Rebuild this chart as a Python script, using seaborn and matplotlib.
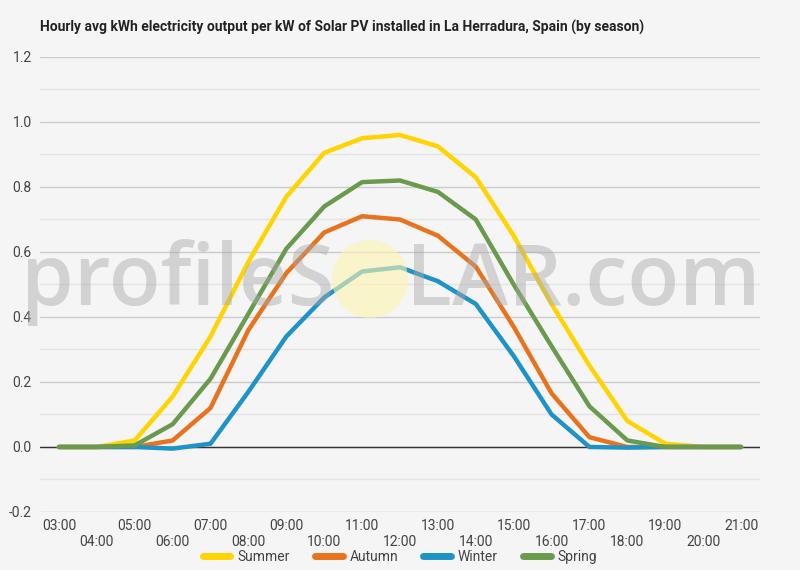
import numpy as np
import pandas as pd
import seaborn as sns
import matplotlib.pyplot as plt
from matplotlib.patches import Ellipse
from matplotlib.ticker import MultipleLocator

hours = [f"{h:02d}:00" for h in range(3, 22)]
summer = [0, 0, 0.02, 0.155, 0.34, 0.57, 0.77, 0.905, 0.95, 0.96, 0.925, 0.83, 0.65, 0.44, 0.25, 0.08, 0.01, 0, 0]
autumn = [0, 0, 0, 0.02, 0.12, 0.36, 0.535, 0.66, 0.71, 0.70, 0.65, 0.555, 0.37, 0.165, 0.03, 0, 0, 0, 0]
winter = [0, 0, 0, -0.005, 0.01, 0.17, 0.34, 0.46, 0.54, 0.553, 0.51, 0.44, 0.28, 0.10, 0.0, -0.002, 0, 0, 0]
spring = [0, 0, 0.005, 0.07, 0.21, 0.41, 0.61, 0.74, 0.815, 0.82, 0.785, 0.70, 0.50, 0.31, 0.125, 0.02, 0, 0, 0]
seasons = ["Summer", "Autumn", "Winter", "Spring"]
colors = ["#FFD400", "#E8731F", "#1F93C6", "#6A9A4E"]

df = pd.DataFrame({"hour": hours, "Summer": summer, "Autumn": autumn,
                   "Winter": winter, "Spring": spring})
long_df = df.melt(id_vars="hour", var_name="season", value_name="kwh")
long_df["x"] = long_df["hour"].map({h: i for i, h in enumerate(hours)})

sns.set_theme(style="white")
plt.rcParams["font.family"] = ["Roboto", "DejaVu Sans"]

bg = "#f5f5f5"
fig = plt.figure(figsize=(8, 5.7), dpi=100, facecolor=bg)
ax = fig.add_axes([0.05, 0.1018, 0.90, 0.7982])
ax.set_facecolor(bg)

sns.lineplot(data=long_df, x="x", y="kwh", hue="season", hue_order=seasons,
             palette=colors, linewidth=3.2, ax=ax, zorder=3)
for line in ax.get_lines():
    line.set_solid_joinstyle("round")
    line.set_solid_capstyle("round")

ax.set_xlim(-0.5, len(hours) - 0.5)
ax.set_ylim(-0.2, 1.2)
ax.yaxis.set_major_locator(MultipleLocator(0.2))
ax.yaxis.set_minor_locator(MultipleLocator(0.1))
ax.grid(which="major", axis="y", color="#cccccc", linewidth=1)
ax.grid(which="minor", axis="y", color="#e4e4e4", linewidth=1)
ax.axhline(0, color="#333333", linewidth=1, zorder=2)
ax.set_axisbelow(True)
for s in ax.spines.values():
    s.set_visible(False)

ax.set_xticks(range(len(hours)))
ax.set_xticklabels([h if i % 2 == 0 else "\n" + h for i, h in enumerate(hours)])
ax.set_yticks(np.arange(-0.2, 1.21, 0.2))
ax.set_yticklabels([f"{v:.1f}" for v in np.arange(-0.2, 1.21, 0.2)])
ax.tick_params(axis="both", which="both", length=0, labelsize=10, labelcolor="#444444")
ax.tick_params(axis="x", pad=5)
ax.tick_params(axis="y", pad=6)
ax.set_xlabel("")
ax.set_ylabel("")

fig.text(0.05, 0.952, "Hourly avg kWh electricity output per kW of Solar PV installed in La Herradura, Spain (by season)",
         fontsize=10, fontweight="bold", color="#222222", va="center")

# watermark: "profileS" + sun + "LAR.com"
sun = Ellipse((370 / 800, 1 - 279 / 570), 76 / 800, 78 / 570, transform=fig.transFigure,
              facecolor="#fff4b0", edgecolor="none", alpha=0.6, zorder=5)
fig.patches.append(sun)
wm = dict(fontsize=61, fontweight="semibold", family="Open Sans", color="#a8a8a8",
          alpha=0.45, va="center", zorder=6)
fig.text(334 / 800, 1 - 283 / 570, "profileS", ha="right", **wm)
fig.text(406 / 800, 1 - 283 / 570, "LAR.com", ha="left", **wm)

leg = ax.legend(loc="center", bbox_to_anchor=(0.5, -0.099), ncol=4, frameon=False,
                fontsize=10, handlelength=2.0, columnspacing=1.8, handletextpad=0.5)
for h in leg.get_lines():
    h.set_linewidth(5)
for t in leg.get_texts():
    t.set_color("#444444")

fig.savefig("out.png", dpi=100, facecolor=bg)
